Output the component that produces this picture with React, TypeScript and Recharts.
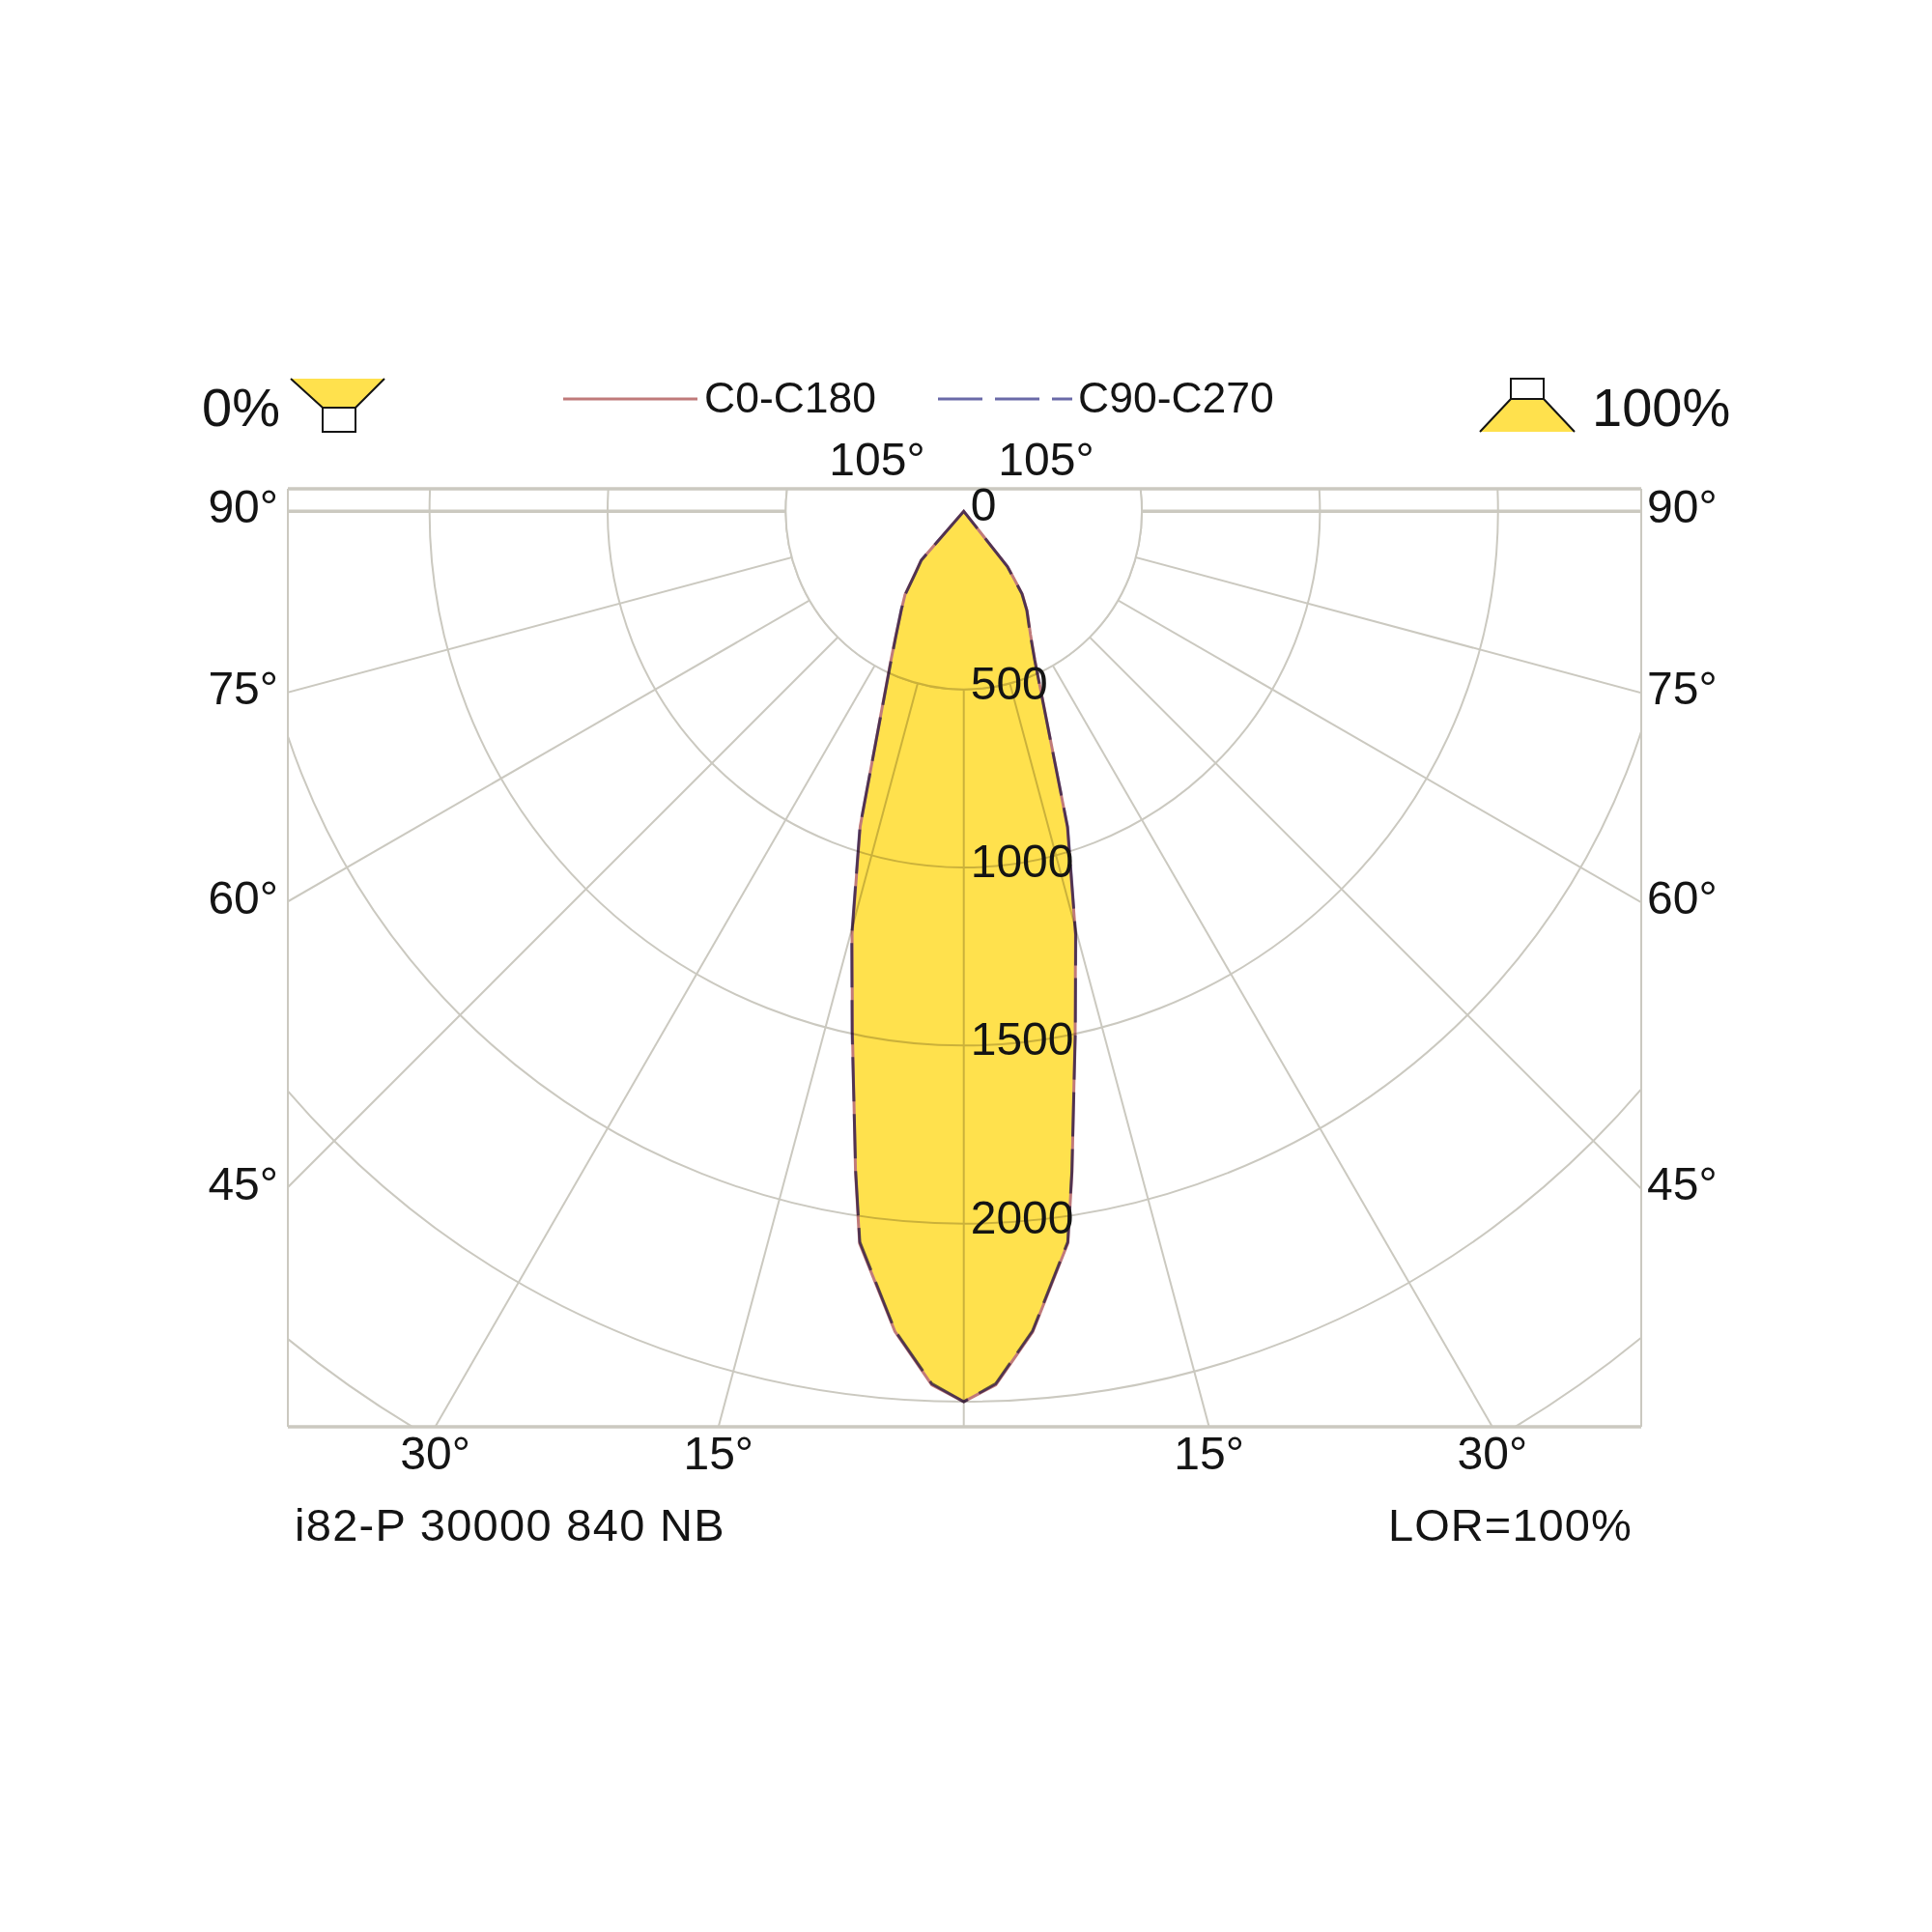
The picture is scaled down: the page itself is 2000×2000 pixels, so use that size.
import { RadarChart, Radar, PolarGrid, PolarAngleAxis, PolarRadiusAxis } from 'recharts'

// gamma in degrees, negative = left half of the diagram
const gammas = [
  -180, -45, -41, -38.3, -35.2, -32.5, -28.4, -25.5, -18.2, -14.8, -12.1, -9.3, -8.1, -4.8, -2.1,
  0, 2.1, 4.8, 8.1, 9.3, 12.1, 14.8, 18.2, 25.5, 28.4, 32.5, 35.2, 38.3, 41, 45, 180,
]
// cd/klm
const c0c180 = [
  0, 0, 183, 218, 286, 325, 404, 483, 931, 1228, 1492, 1881, 2076, 2311, 2454,
  2500, 2454, 2312, 2075, 1880, 1492, 1228, 931, 464, 394, 331, 285, 199, 0, 0, 0,
]
const c90c270 = [
  0, 0, 181, 216, 284, 326, 402, 480, 934, 1232, 1496, 1878, 2072, 2308, 2451,
  2500, 2451, 2309, 2072, 1878, 1495, 1231, 934, 462, 392, 329, 283, 197, 0, 0, 0,
]

const radiusTicks = [0, 500, 1000, 1500, 2000]
const sideAngles = [90, 75, 60, 45]
const bottomAngles = [30, 15]
const spokeGammas = [-75, -60, -45, -30, -15, 0, 15, 30, 45, 60, 75]
const horizonGammas = [-90, 90]
const gridRadii = [500, 1000, 1500, 2000, 2500, 3000]

const data = gammas.map((angle, i) => ({ angle, c0: c0c180[i], c90: c90c270[i] }))

const W = 2000
const CX = 997.7
const CY = 529.3
const PX_PER_CD = 0.3687
const OUTER = 3000 * PX_PER_CD
const LEFT = 298
const RIGHT = 1699
const TOP = 506
const BOTTOM = 1477

const GRID = '#cbc9c0'
const INK = '#141414'
const YELLOW = '#ffe14d'
const RED = '#c07a7a'
const BLUE = '#6a6aa8'
const FONT = '"Liberation Sans", Arial, sans-serif'

const rad = (d: number) => (d * Math.PI) / 180

function Label({ x, y, size = 48, anchor = 'start', spacing = 0, children }: any) {
  return (
    <text x={x} y={y} fontSize={size} fontFamily={FONT} fill={INK} textAnchor={anchor} letterSpacing={spacing}>
      {children}
    </text>
  )
}

export default function App() {
  return (
    <div style={{ position: 'absolute', left: 0, top: 0, width: W, height: W, background: '#fff' }}>
      {/* the chart is exactly the frame, so the svg crops the arcs and spokes */}
      <div style={{ position: 'absolute', left: LEFT, top: TOP }}>
        <RadarChart
          width={RIGHT - LEFT}
          height={BOTTOM - TOP}
          data={data}
          cx={CX - LEFT}
          cy={CY - TOP}
          innerRadius={0}
          outerRadius={OUTER}
          startAngle={-270}
          endAngle={90}
          margin={{ top: 0, right: 0, bottom: 0, left: 0 }}
        >
          <PolarAngleAxis dataKey="angle" type="number" domain={[-180, 180]} tick={false} axisLine={false} tickLine={false} />
          <PolarRadiusAxis angle={-90} domain={[0, 3000]} tickCount={7} axisLine={false} tickLine={false} tick={false} />

          <PolarGrid
            gridType="circle"
            polarRadius={gridRadii.map((r) => r * PX_PER_CD)}
            polarAngles={spokeGammas.map((g) => g - 90)}
            stroke={GRID}
            strokeWidth={2}
          />
          <PolarGrid
            gridType="circle"
            polarRadius={[0]}
            polarAngles={horizonGammas.map((g) => g - 90)}
            stroke={GRID}
            strokeWidth={3.5}
          />
          {/* spokes only start at the 500 arc */}
          <circle cx={CX - LEFT} cy={CY - TOP} r={500 * PX_PER_CD} fill="#fff" stroke={GRID} strokeWidth={2} />

          <Radar dataKey="c0" name="C0-C180" stroke={RED} strokeWidth={3} fill={YELLOW} fillOpacity={1} dot={false} isAnimationActive={false} style={{ mixBlendMode: 'multiply' }} />
          <Radar dataKey="c90" name="C90-C270" stroke={BLUE} strokeWidth={3} strokeDasharray="46 13" fill="none" dot={false} isAnimationActive={false} style={{ mixBlendMode: 'multiply' }} />
        </RadarChart>
      </div>

      <svg width={W} height={W} style={{ position: 'absolute', left: 0, top: 0, pointerEvents: 'none' }}>
        {/* frame */}
        <path d={`M${LEFT} ${TOP} V${BOTTOM} M${RIGHT} ${TOP} V${BOTTOM}`} stroke={GRID} strokeWidth={2} fill="none" />
        <path d={`M${LEFT} ${TOP} H${RIGHT} M${LEFT} ${BOTTOM} H${RIGHT}`} stroke={GRID} strokeWidth={3.5} fill="none" />

        {/* radius labels, here so the 0 is not cropped at the frame */}
        {radiusTicks.map((t) => (
          <Label key={t} x={CX + 7} y={CY + t * PX_PER_CD + 10}>{t}</Label>
        ))}

        {/* angle labels */}
        {sideAngles.map((a) => {
          const y = CY + (RIGHT - LEFT) / 2 / Math.tan(rad(a)) + 12
          return (
            <g key={a}>
              <Label x={288} y={y} anchor="end">{a}°</Label>
              <Label x={1705} y={y}>{a}°</Label>
            </g>
          )
        })}
        {bottomAngles.map((a) => {
          const dx = (BOTTOM - CY) * Math.tan(rad(a))
          return (
            <g key={a}>
              <Label x={CX - dx} y={1521} anchor="middle">{a}°</Label>
              <Label x={CX + dx} y={1521} anchor="middle">{a}°</Label>
            </g>
          )
        })}
        <Label x={908} y={492} anchor="middle">105°</Label>
        <Label x={1083} y={492} anchor="middle">105°</Label>

        {/* legend */}
        <line x1={583} x2={722} y1={413} y2={413} stroke={RED} strokeWidth={3} />
        <Label x={729} y={427} size={44.5}>C0-C180</Label>
        <line x1={971} x2={1110} y1={413} y2={413} stroke={BLUE} strokeWidth={3} strokeDasharray="46 13" />
        <Label x={1116} y={427} size={44.5}>C90-C270</Label>

        {/* 0% luminaire */}
        <polygon points="301,392 398,392 368,422 334,422" fill={YELLOW} />
        <path d="M301 392 L334 422 M398 392 L368 422" stroke={INK} strokeWidth={2} />
        <rect x={334} y={422} width={34} height={25} fill="#fff" stroke={INK} strokeWidth={2} />
        <Label x={209} y={441} size={56}>0%</Label>

        {/* 100% luminaire */}
        <polygon points="1564,413 1598,413 1630,447 1532,447" fill={YELLOW} />
        <path d="M1564 413 L1532 447 M1598 413 L1630 447" stroke={INK} strokeWidth={2} />
        <rect x={1564} y={392} width={34} height={21} fill="#fff" stroke={INK} strokeWidth={2} />
        <Label x={1648} y={441} size={56}>100%</Label>

        {/* footer */}
        <Label x={305} y={1595} size={47} spacing={1.3}>i82-P 30000 840 NB</Label>
        <Label x={1690} y={1595} size={47} spacing={1.1} anchor="end">LOR=100%</Label>
      </svg>
    </div>
  )
}
